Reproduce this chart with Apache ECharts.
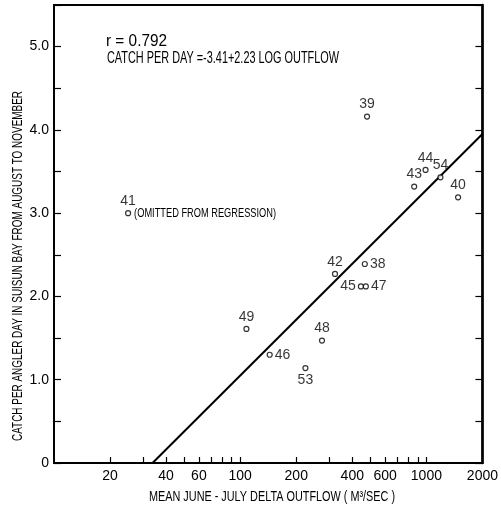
<!DOCTYPE html>
<html>
<head>
<meta charset="utf-8">
<script src="https://cdn.jsdelivr.net/npm/echarts@6/dist/echarts.min.js"></script>
<style>
  html, body { margin: 0; padding: 0; background: #fff; }
  #chart { width: 501px; height: 512px; }
</style>
</head>
<body>
<div id="chart"></div>
<script>
// Striped bass catch vs. delta outflow, by year
const years = ['41', '39', '44', '54', '43', '40', '42', '38', '45', '47', '49', '48', '46', '53'];
const outflow = [25, 480, 990, 1190, 860, 1480, 323, 467, 445, 473, 108, 275, 144, 224];
const catchPerDay = [3.00, 4.16, 3.52, 3.43, 3.32, 3.19, 2.27, 2.39, 2.12, 2.12, 1.61, 1.47, 1.30, 1.14];

// Regression: catch = a + b * log10(outflow)
const intercept = -3.41;
const slope = 2.23;
const correlation = 0.792;

const xTickValues = [20, 30, 40, 50, 60, 70, 80, 90, 100, 200, 300, 400, 500, 600, 700, 800, 900, 1000];
const xLabelValues = [20, 40, 60, 100, 200, 400, 600, 1000, 2000];

const xTitle = 'MEAN JUNE - JULY DELTA OUTFLOW ( M\u00B3/SEC )';
const yTitle = 'CATCH PER ANGLER DAY IN SUISUN BAY FROM AUGUST TO NOVEMBER';
const rText = 'r = ' + correlation.toFixed(3);
const eqText = 'CATCH PER DAY =-' + Math.abs(intercept).toFixed(2) + '+' + slope.toFixed(2) + ' LOG OUTFLOW';
const omittedNote = '(OMITTED FROM REGRESSION)';

const FONT = '"Liberation Sans", Arial, sans-serif';

// label placement per year
const labelPlace = {
  '38': 'right', '45': 'left', '47': 'right', '46': 'right', '53': 'bottom'
};

// narrow lettering: squeeze text horizontally to a given width
const measureCtx = document.createElement('canvas').getContext('2d');
function squeeze(text, px, width) {
  measureCtx.font = px + 'px ' + FONT;
  return width / measureCtx.measureText(text).width;
}

const points = years.map((y, i) => ({
  value: [outflow[i], catchPerDay[i]],
  name: y,
  label: { position: labelPlace[y] || 'top' }
}));

const xMin = 10, xMax = 2000;
const xZero = Math.pow(10, -intercept / slope);
const regression = [
  [xZero, 0],
  [xMax, intercept + slope * Math.log10(xMax)]
];

const chart = echarts.init(document.getElementById('chart'), null, { renderer: 'canvas' });

const titleGraphics = [{
  type: 'text', x: 106, y: 42, scaleX: squeeze(rText, 16, 61), originX: 0,
  style: { text: rText, font: '16px ' + FONT, fill: '#000', verticalAlign: 'middle' }
}, {
  type: 'text', x: 107, y: 59, scaleX: squeeze(eqText, 16, 232), originX: 0,
  style: { text: eqText, font: '16px ' + FONT, fill: '#000', verticalAlign: 'middle' }
}, {
  type: 'text', x: 272, y: 497, scaleX: squeeze(xTitle, 15, 246),
  style: { text: xTitle, font: '15px ' + FONT, fill: '#000', align: 'center', verticalAlign: 'middle' }
}, {
  type: 'text', x: 18, y: 266, rotation: Math.PI / 2, scaleX: squeeze(yTitle, 15, 350),
  style: { text: yTitle, font: '15px ' + FONT, fill: '#000', align: 'center', verticalAlign: 'middle' }
}];

chart.setOption({
  animation: false,
  backgroundColor: '#fff',
  textStyle: { fontFamily: FONT },
  grid: {
    left: 54, right: 14, top: 5, bottom: 49,
    show: true, borderColor: '#000', borderWidth: 2, backgroundColor: 'transparent'
  },
  xAxis: {
    type: 'log', logBase: 10, min: xMin, max: xMax,
    axisLine: { lineStyle: { color: '#000', width: 2 } },
    axisTick: { inside: true, length: 6, lineStyle: { color: '#000', width: 1.2 }, customValues: xTickValues },
    minorTick: { show: false },
    axisLabel: {
      customValues: xLabelValues, fontFamily: FONT, fontSize: 14, color: '#000', margin: 6,
      formatter: v => String(Math.round(v))
    },
    splitLine: { show: false }
  },
  yAxis: [{
    type: 'value', min: 0, max: 5.5, interval: 0.5,
    axisLine: { show: true, lineStyle: { color: '#000', width: 2 } },
    axisTick: { show: true, inside: true, length: 7, lineStyle: { color: '#000', width: 1.2 } },
    axisLabel: {
      fontFamily: FONT, fontSize: 14, color: '#000', margin: 5,
      formatter: v => v === 0 ? '0' : (Math.abs(v % 1) < 1e-9 ? v.toFixed(1) : '')
    },
    splitLine: { show: false }
  }, {
    type: 'value', min: 0, max: 5.5, interval: 0.5, position: 'right',
    axisLine: { show: true, lineStyle: { color: '#000', width: 2.5 } },
    axisTick: { show: true, inside: true, length: 7, lineStyle: { color: '#000', width: 1.2 } },
    axisLabel: { show: false },
    splitLine: { show: false }
  }],
  graphic: titleGraphics,
  series: [{
    type: 'line',
    data: regression,
    symbol: 'none',
    lineStyle: { color: '#000', width: 2 },
    clip: true,
    z: 2
  }, {
    type: 'scatter',
    data: points,
    symbol: 'circle',
    symbolSize: 5,
    itemStyle: { color: '#fff', borderColor: '#000', borderWidth: 1.2 },
    label: {
      show: true, formatter: p => p.name, distance: 2,
      fontFamily: FONT, fontSize: 14, color: '#000'
    },
    z: 3
  }]
});

// note beside the excluded year, placed from its data position
const notePos = chart.convertToPixel({ gridIndex: 0 }, [outflow[0], catchPerDay[0]]);
chart.setOption({
  graphic: titleGraphics.concat([{
    type: 'text', x: notePos[0] + 6, y: notePos[1], scaleX: squeeze(omittedNote, 13, 142), originX: 0,
    style: { text: omittedNote, font: '13px ' + FONT, fill: '#000', verticalAlign: 'middle' }
  }])
});
</script>
</body>
</html>
